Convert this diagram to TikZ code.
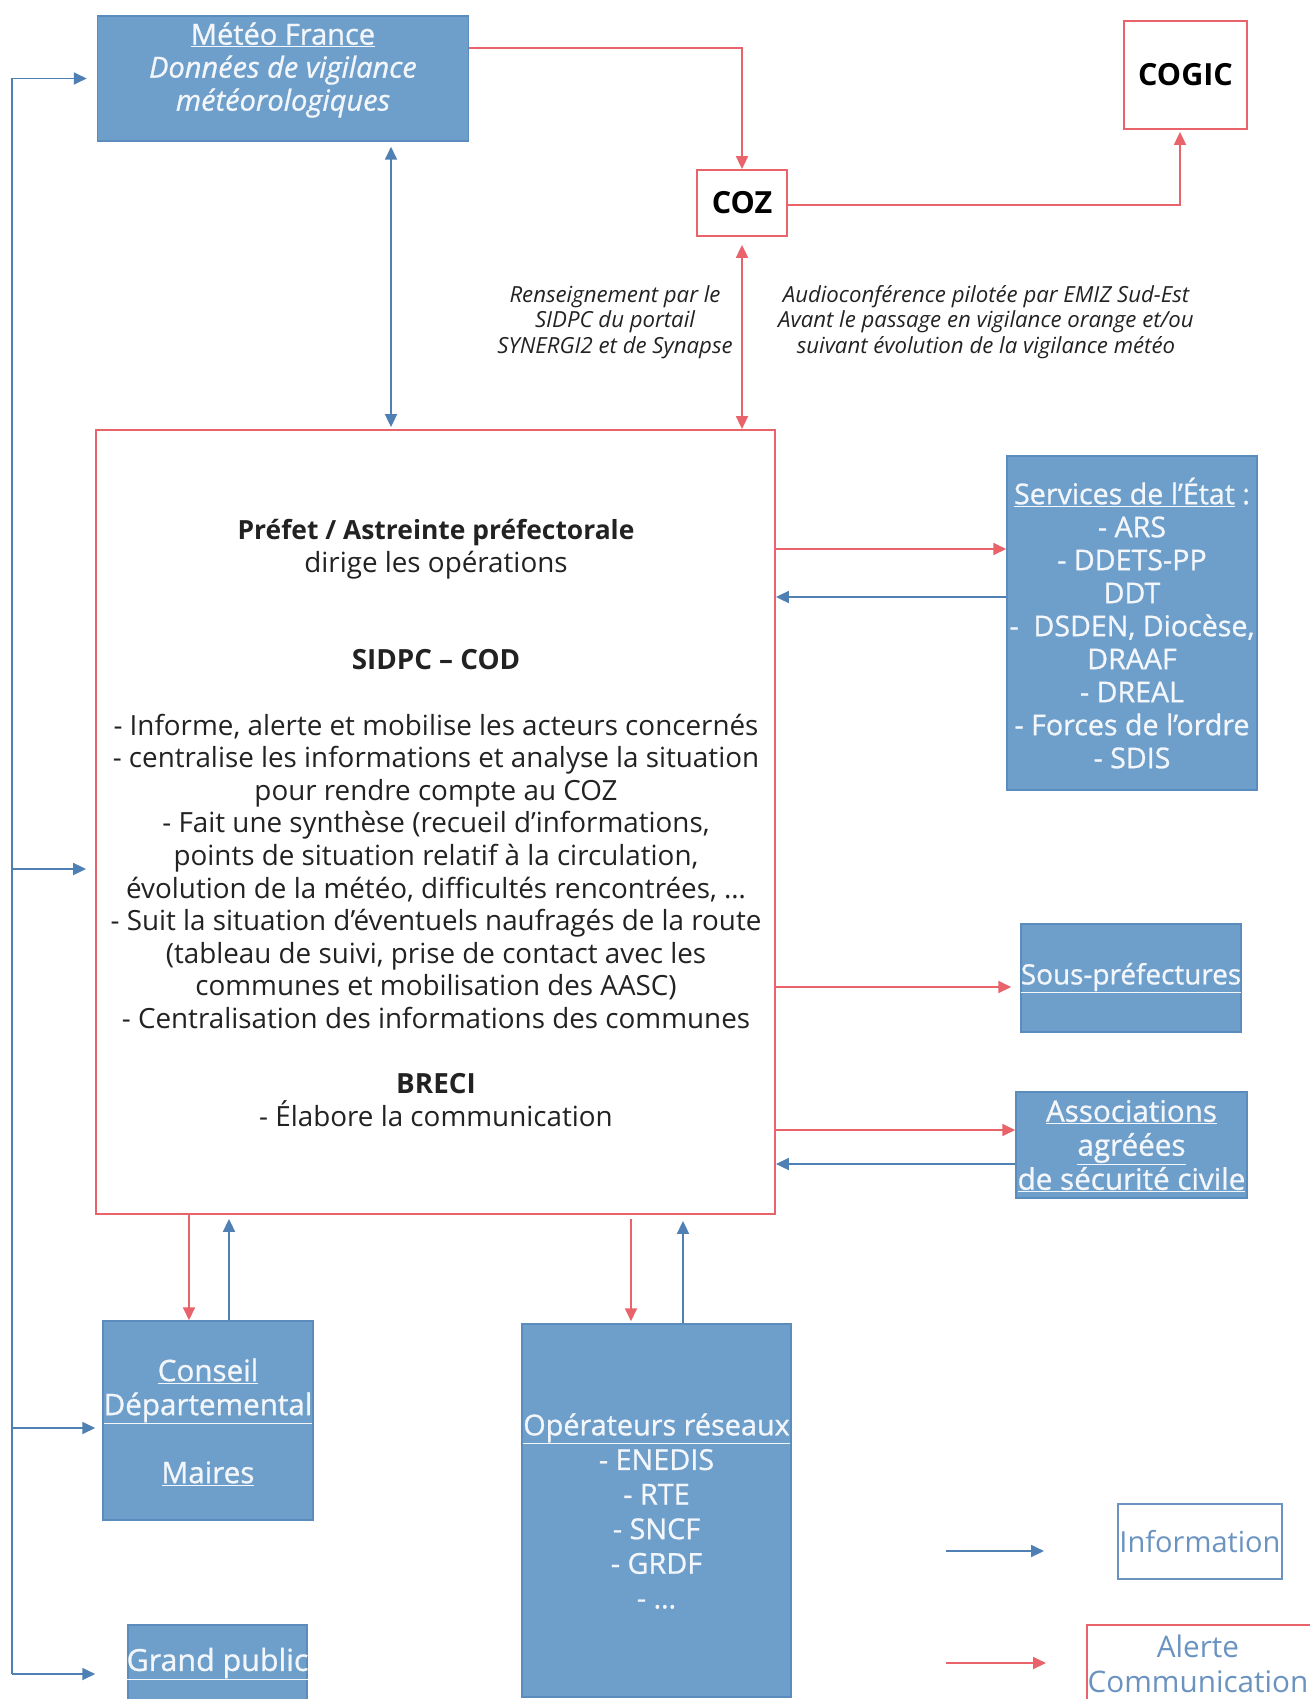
\documentclass[tikz,border=0pt]{standalone}
\usepackage{fontspec}
\setmainfont{Open Sans}
\newfontfamily\boxfont{Open Sans}[FakeBold=0.9]
\newcommand\bsz[2]{\boxfont\fontsize{#1}{#2}\selectfont}
\usetikzlibrary{arrows.meta}
\definecolor{boxblue}{HTML}{6E9FCB}
\definecolor{boxedge}{HTML}{5A8CBD}
\definecolor{redl}{HTML}{E8646A}
\definecolor{bluel}{HTML}{4F80B4}
\definecolor{ink}{HTML}{222222}
\definecolor{paleblue}{HTML}{F3F6FA}
\definecolor{legblue}{HTML}{6A93C0}
\begin{document}
\begin{tikzpicture}[x=1pt,y=-1pt,
  bluebox/.style={draw=boxedge, fill=boxblue, line width=1.5pt, inner sep=0pt},
  redbox/.style={draw=redl, line width=1.8pt, fill=white, inner sep=0pt},
  btxt/.style={text=paleblue, align=center, inner sep=0pt, font=\bsz{28.6}{33}},
  tip/.style={-{Triangle[length=13pt,width=12pt]}},
  ra/.style={draw=redl, line width=1.8pt, tip},
  ba/.style={draw=bluel, line width=1.8pt, tip},
  lab/.style={align=center, inner sep=0pt, text=ink, font=\fontsize{22.2}{25.5}\selectfont\itshape},
]
\useasboundingbox (0,0) rectangle (1309,1699);

% ---------- boxes ----------
\node[bluebox, minimum width=371pt, minimum height=125pt] (meteo) at (283,78.5) {};
\node[btxt, font=\bsz{29}{33}] (meteot) at (283,70) {\underline{Météo France}\\ \itshape Données de vigilance\\ \itshape météorologiques};

\node[redbox, minimum width=123pt, minimum height=108pt] (cogic) at (1185.5,75) {\fontsize{30.5}{33}\selectfont\bfseries COGIC};
\node[redbox, minimum width=90pt, minimum height=66pt] (coz) at (742,203) {\fontsize{30.5}{33}\selectfont\bfseries COZ};

\node[redbox, minimum width=679pt, minimum height=784pt] (main) at (435.5,822) {};
\node[align=center, inner sep=0pt, text=ink, font=\fontsize{27.8}{32.6}\selectfont] (maint) at (436,823) {%
{\fontsize{26.4}{32.6}\selectfont\textbf{Préfet / Astreinte préfectorale}}\\
dirige les opérations\\[65.2pt]
\textbf{SIDPC – COD}\\[32.6pt]
- Informe, alerte et mobilise les acteurs concernés\\
- centralise les informations et analyse la situation\\
pour rendre compte au COZ\\
- Fait une synthèse (recueil d’informations,\\
points de situation relatif à la circulation,\\
évolution de la météo, difficultés rencontrées, …\\
- Suit la situation d’éventuels naufragés de la route\\
(tableau de suivi, prise de contact avec les\\
communes et mobilisation des AASC)\\
- Centralisation des informations des communes\\[32.6pt]
\textbf{BRECI}\\
- Élabore la communication};

\node[bluebox, minimum width=250pt, minimum height=334pt] (services) at (1132,623) {};
\node[btxt] (servicest) at (1132,623) {\underline{Services de l’État} :\\ - ARS\\ - DDETS-PP\\ DDT\\ -\ \ DSDEN, Diocèse,\\ DRAAF\\ - DREAL\\ - Forces de l’ordre\\ - SDIS};

\node[bluebox, minimum width=220pt, minimum height=108pt] (souspref) at (1131,978) {};
\node[btxt, font=\bsz{27.9}{33}] (sousprt) at (1131,978) {\underline{Sous-préfectures}};

\node[bluebox, minimum width=231pt, minimum height=106pt] (assoc) at (1131.5,1145) {};
\node[btxt, font=\bsz{29.6}{34}] (assoct) at (1131.5,1146) {\underline{Associations}\\ \underline{agréées}\\ \underline{de sécurité civile}};

\node[bluebox, minimum width=210pt, minimum height=199pt] (conseil) at (208,1420.5) {};
\node[btxt, font=\bsz{29.6}{34}] (conseilt) at (208,1422) {\underline{Conseil}\\ \underline{Départemental}\\[34pt] \underline{Maires}};

\node[bluebox, minimum width=269pt, minimum height=373pt] (oper) at (656.5,1510.5) {};
\node[btxt, font=\bsz{28.8}{34.6}] (opert) at (656.5,1511) {\underline{Opérateurs réseaux}\\ - ENEDIS\\ - RTE\\ - SNCF\\ - GRDF\\ - …};

\node[bluebox, minimum width=179pt, minimum height=90pt] (gp) at (217.5,1670) {};
\node[btxt, font=\bsz{30.4}{34}] (gpt) at (217.5,1664) {\underline{Grand public}};

% ---------- labels ----------
\node[lab] (lab1) at (615,322) {Renseignement par le\\ SIDPC du portail\\ SYNERGI2 et de Synapse};
\node[lab] (lab2) at (986,322) {Audioconférence pilotée par EMIZ Sud-Est\\ Avant le passage en vigilance orange et/ou\\ suivant évolution de la vigilance météo};

% ---------- legend ----------
\node[draw=legblue, line width=1.5pt, minimum width=164pt, minimum height=75pt, inner sep=0pt, text=legblue, font=\fontsize{29}{34}\selectfont] (info) at (1200,1541.5) {Information};
\node[draw=redl, line width=1.5pt, minimum width=226pt, minimum height=90pt, inner sep=0pt] (alert) at (1200,1670) {};
\node[align=center, inner sep=0pt, text=legblue, font=\fontsize{29.7}{35}\selectfont] (alertt) at (1198,1664) {Alerte\\ Communication};
\coordinate (lb1) at (946,1551);
\coordinate (lb2) at (1044,1551);
\coordinate (lr1) at (946,1663);
\coordinate (lr2) at (1046,1663);
\draw[ba] (lb1) -- (lb2);
\draw[ra] (lr1) -- (lr2);

% ---------- connectors ----------
\draw[ra] ([yshift=-33pt]meteo.north east) -| (coz.north);
\coordinate (cg) at ([xshift=-5.5pt]cogic.south);
\draw[ra, shorten >=2pt] ([yshift=-2pt]coz.east) -| (cg);

\coordinate (mb) at ([xshift=108pt]meteo.south);
\draw[ba, {Triangle[length=13pt,width=12pt]}-{Triangle[length=13pt,width=12pt]}, shorten <=5pt, shorten >=2pt] (mb) -- (mb |- main.north);
\draw[ra, {Triangle[length=13pt,width=12pt]}-{Triangle[length=13pt,width=12pt]}, shorten <=8pt] (coz.south) -- (coz.south |- main.north);

\coordinate (s1) at ([yshift=74pt]services.west);
\coordinate (s2) at ([yshift=26pt]services.west);
\draw[ra] (s1 -| main.east) -- (s1);
\draw[ba] (s2) -- (s2 -| main.east);

\coordinate (p1) at ([yshift=-9pt]souspref.west);
\draw[ra, shorten >=9pt] (p1 -| main.east) -- (p1);

\coordinate (a1) at ([yshift=15pt]assoc.west);
\coordinate (a2) at ([yshift=-19pt]assoc.west);
\draw[ra] (a1 -| main.east) -- (a1);
\draw[ba] (a2) -- (a2 -| main.east);

\coordinate (c1) at ([xshift=-19pt]conseil.north);
\coordinate (c2) at ([xshift=21pt]conseil.north);
\draw[ra] (c1 |- main.south) -- (c1);
\draw[ba, shorten >=4pt] (c2) -- (c2 |- main.south);

\coordinate (o1) at ([xshift=-25.5pt]oper.north);
\coordinate (o2) at ([xshift=26.5pt]oper.north);
\draw[ra, shorten <=4pt, shorten >=2pt] (o1 |- main.south) -- (o1);
\draw[ba, shorten >=6pt] (o2) -- (o2 |- main.south);

% left information bus
\coordinate (ltop) at ([xshift=-84.5pt]meteo.west);
\coordinate (lbot) at ([yshift=-4pt]gp.west -| ltop);
\coordinate (lm) at ([yshift=-47pt]main.west);
\coordinate (lc) at ([yshift=-7.5pt]conseil.west);
\draw[ba, shorten >=10pt] (lbot) -- (ltop) -- (meteo.west);
\draw[ba, shorten >=32pt] (lbot) -- ([yshift=-4pt]gp.west);
\draw[ba, shorten >=9pt] (lm -| ltop) -- (lm);
\draw[ba, shorten >=7pt] (lc -| ltop) -- (lc);
\end{tikzpicture}
\end{document}
